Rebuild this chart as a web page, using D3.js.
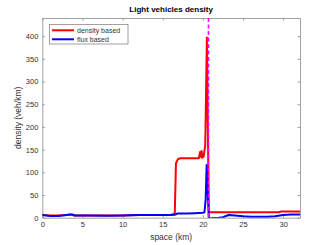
<!DOCTYPE html>
<html>
<head>
<meta charset="utf-8">
<script src="https://cdn.jsdelivr.net/npm/d3@7"></script>
<style>
  body { margin: 0; background: #fff; }
  svg { font-family: "Liberation Sans", Arial, sans-serif; }
</style>
</head>
<body>
<svg id="chart" width="332" height="245"></svg>
<script>
// density based (red)
const densX = [0, 1, 2, 3, 3.5, 4, 5, 8, 10, 12, 14, 16, 16.3, 16.5, 16.65, 16.9, 17.2, 18, 19, 19.5, 19.65, 19.75, 19.85, 19.95, 20.1, 20.3, 20.5, 20.62, 20.75, 21, 25, 29.5, 29.7, 32.1];
const densY = [6, 5, 5, 6, 7, 5, 5, 5, 5, 6, 6, 6, 8, 9, 120, 129, 131, 131, 131, 131, 145, 134, 147, 132, 135, 160, 397, 200, 12, 12, 12, 12, 13.5, 13.5];

// flux based (blue)
const fluxX = [0, 0.5, 1, 2, 3, 3.5, 3.8, 4, 5, 6, 8, 10, 12, 14, 16, 16.5, 16.8, 18, 19, 20, 20.2, 20.35, 20.47, 20.6, 20.75, 21, 22, 22.5, 23.2, 24, 25, 26, 28, 29, 30, 31, 32.1];
const fluxY = [6, 5, 4, 4, 6, 7, 7, 5, 5, 5, 4.5, 5, 6, 6, 6, 6.5, 9, 9, 10, 11, 12, 40, 116, 60, -1, -1, 0, 1, 6, 5, 3, 2, 2, 3, 6, 7, 7];

const refX = 20.7; // magenta dashed marker

const xTicks = [0, 5, 10, 15, 20, 25, 30];
const yTicks = [0, 50, 100, 150, 200, 250, 300, 350, 400];

const legendItems = [
  { label: "density based", color: "#ff0000" },
  { label: "flux based", color: "#0000ff" }
];

const svg = d3.select("#chart");
const pLeft = 42.3, pRight = 300, pTop = 18, pBottom = 217.7;

const x = d3.scaleLinear().domain([0, 32.1]).range([pLeft, pRight]);
const y = d3.scaleLinear().domain([0, 440]).range([pBottom, pTop]);

const axisColor = "#8a8a8a";
const textColor = "#333";

svg.append("clipPath").attr("id", "clip")
  .append("rect")
  .attr("x", pLeft).attr("y", pTop)
  .attr("width", pRight - pLeft).attr("height", pBottom - pTop);

// axes (box with inward ticks)
const xAxis = svg.append("g")
  .attr("transform", `translate(0,${pBottom})`)
  .call(d3.axisBottom(x).tickValues(xTicks).tickSize(-2.5).tickPadding(4).tickSizeOuter(0));
const xAxisTop = svg.append("g")
  .attr("transform", `translate(0,${pTop})`)
  .call(d3.axisTop(x).tickValues(xTicks).tickSize(-2.5).tickFormat("").tickSizeOuter(0));
const yAxis = svg.append("g")
  .attr("transform", `translate(${pLeft},0)`)
  .call(d3.axisLeft(y).tickValues(yTicks).tickSize(-2.5).tickPadding(4).tickSizeOuter(0));
const yAxisRight = svg.append("g")
  .attr("transform", `translate(${pRight},0)`)
  .call(d3.axisRight(y).tickValues(yTicks).tickSize(-2.5).tickFormat("").tickSizeOuter(0));

[xAxis, xAxisTop, yAxis, yAxisRight].forEach(g => {
  g.selectAll("path").attr("stroke", axisColor).attr("stroke-width", 0.8);
  g.selectAll("line").attr("stroke", axisColor).attr("stroke-width", 0.8);
  g.selectAll("text")
    .attr("fill", textColor)
    .style("font-size", "7.5px")
    .style("font-family", "Liberation Sans, Arial, sans-serif");
});

// lines
const lineGen = d3.line()
  .x(d => x(d[0]))
  .y(d => y(d[1]));

const plot = svg.append("g").attr("clip-path", "url(#clip)");

plot.append("path")
  .datum(d3.zip(densX, densY))
  .attr("d", lineGen)
  .attr("fill", "none")
  .attr("stroke", "#ff0000")
  .attr("stroke-width", 2)
  .attr("stroke-linejoin", "round");

plot.append("path")
  .datum(d3.zip(fluxX, fluxY))
  .attr("d", lineGen)
  .attr("fill", "none")
  .attr("stroke", "#0000ff")
  .attr("stroke-width", 2)
  .attr("stroke-linejoin", "round");

plot.append("line")
  .attr("x1", x(refX)).attr("x2", x(refX))
  .attr("y1", pTop).attr("y2", pBottom)
  .attr("stroke", "#ff00ff")
  .attr("stroke-width", 1.6)
  .attr("stroke-dasharray", "4,2.5");

// title and labels
svg.append("text")
  .attr("x", (pLeft + pRight) / 2).attr("y", 12)
  .attr("text-anchor", "middle")
  .attr("fill", "#000")
  .style("font-size", "8px")
  .style("font-weight", "bold")
  .text("Light vehicles density");

svg.append("text")
  .attr("x", (pLeft + pRight) / 2).attr("y", 239.5)
  .attr("text-anchor", "middle")
  .attr("fill", textColor)
  .style("font-size", "8.5px")
  .text("space (km)");

svg.append("text")
  .attr("transform", `translate(21,${(pTop + pBottom) / 2}) rotate(-90)`)
  .attr("text-anchor", "middle")
  .attr("fill", textColor)
  .style("font-size", "8.5px")
  .text("density (veh/km)");

// legend
const legend = svg.append("g").attr("transform", "translate(49.5,24.5)");
legend.append("rect")
  .attr("width", 78.5).attr("height", 19.5)
  .attr("fill", "#fff")
  .attr("stroke", axisColor)
  .attr("stroke-width", 0.8);

legendItems.forEach((d, i) => {
  const yy = 5.8 + i * 9;
  legend.append("line")
    .attr("x1", 2.5).attr("x2", 24.5)
    .attr("y1", yy).attr("y2", yy)
    .attr("stroke", d.color)
    .attr("stroke-width", 2);
  legend.append("text")
    .attr("x", 27.5).attr("y", yy + 2.6)
    .attr("fill", textColor)
    .style("font-size", "7px")
    .text(d.label);
});
</script>
</body>
</html>
